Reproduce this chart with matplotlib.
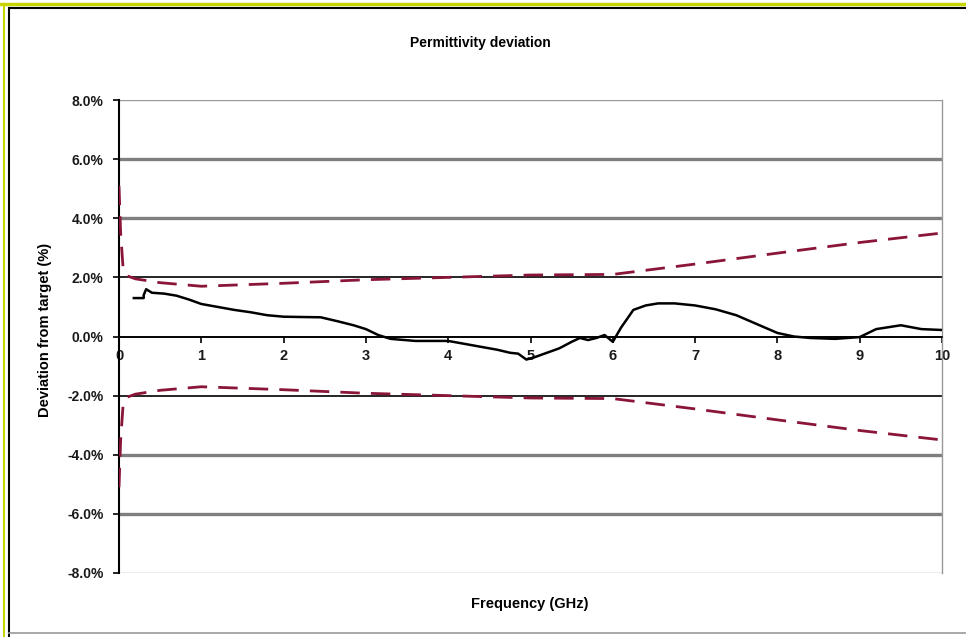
import matplotlib
matplotlib.use("Agg")
import matplotlib.pyplot as plt
from matplotlib.lines import Line2D

plt.rcParams['font.family'] = ['Liberation Sans', 'DejaVu Sans']

# Measured deviation (%)
freq = [0.18, 0.30, 0.30, 0.33, 0.40, 0.55, 0.70, 0.85, 1.00, 1.20, 1.40, 1.60, 1.80, 2.00,
        2.20, 2.45, 2.65, 2.85, 3.00, 3.15, 3.30, 3.60, 4.00, 4.20, 4.40, 4.60, 4.75, 4.85,
        4.95, 5.05, 5.20, 5.35, 5.50, 5.60, 5.70, 5.80, 5.90, 6.00, 6.10, 6.25, 6.40, 6.55,
        6.75, 7.00, 7.25, 7.50, 7.75, 8.00, 8.20, 8.40, 8.70, 9.00, 9.20, 9.50, 9.75, 10.0]
deviation = [1.30, 1.30, 1.40, 1.60, 1.48, 1.45, 1.38, 1.25, 1.10, 1.00, 0.90, 0.82, 0.72, 0.67,
             0.66, 0.65, 0.52, 0.38, 0.25, 0.05, -0.08, -0.15, -0.15, -0.25, -0.35, -0.45, -0.55, -0.58,
             -0.78, -0.70, -0.55, -0.40, -0.18, -0.05, -0.12, -0.05, 0.05, -0.18, 0.30, 0.90, 1.05, 1.12,
             1.12, 1.05, 0.92, 0.72, 0.42, 0.12, 0.00, -0.05, -0.08, -0.02, 0.25, 0.38, 0.25, 0.22]

# Tolerance limits (%)
tol_freq = [0.0, 0.02, 0.05, 0.10, 0.20, 0.50, 1.00, 2.00, 3.00, 4.00, 5.00, 6.00,
            7.00, 8.00, 9.00, 10.0]
tol_upper = [5.10, 3.50, 2.30, 2.05, 1.95, 1.82, 1.70, 1.80, 1.92, 2.00, 2.08, 2.10,
             2.45, 2.82, 3.18, 3.50]
tol_lower = [-v for v in tol_upper]

yticks = [-8, -6, -4, -2, 0, 2, 4, 6, 8]
ytick_labels = ['-8.0%', '-6.0%', '-4.0%', '-2.0%', '0.0%', '2.0%', '4.0%', '6.0%', '8.0%']
xticks = [0, 1, 2, 3, 4, 5, 6, 7, 8, 9, 10]

W, H = 966, 637
fig = plt.figure(figsize=(W / 100, H / 100), dpi=100)

# outer frame (yellow + black)
fig.add_artist(Line2D([0, 1], [1 - 4 / H, 1 - 4 / H], color='#c8d400', lw=2.5, transform=fig.transFigure))
fig.add_artist(Line2D([4 / W, 4 / W], [1 - 4 / H, 0], color='#c8d400', lw=1.5, transform=fig.transFigure))
fig.add_artist(Line2D([9 / W, 1], [1 - 8 / H, 1 - 8 / H], color='black', lw=1.5, transform=fig.transFigure))
fig.add_artist(Line2D([9 / W, 9 / W], [1 - 8 / H, 0], color='black', lw=1.5, transform=fig.transFigure))
fig.add_artist(Line2D([9 / W, 1], [4 / H, 4 / H], color='#999999', lw=1.2, transform=fig.transFigure))

ax = fig.add_axes([119 / W, 1 - 573 / H, (942 - 119) / W, (573 - 100) / H])
ax.set_xlim(0, 10)
ax.set_ylim(-8, 8)

# horizontal grid lines
for y in yticks:
    if y in (4, 6, -4, -6):
        ax.axhline(y, color='#7f7f7f', lw=2.4, zorder=1)
    elif y in (2, -2, 0):
        ax.axhline(y, color='black', lw=1.2, zorder=1)
    else:
        ax.axhline(y, color='#999999', lw=1.0, zorder=1)

dash_col = '#8a1538'
ax.plot(tol_freq, tol_upper, color=dash_col, lw=2.0, dashes=(7, 4), zorder=3)
ax.plot(tol_freq, tol_lower, color=dash_col, lw=2.0, dashes=(7, 4), zorder=3)
ax.plot(freq, deviation, color='black', lw=1.8, zorder=4)

ax.spines['bottom'].set_position(('data', 0))
ax.spines['bottom'].set_color('black')
ax.spines['bottom'].set_linewidth(1.2)
ax.spines['left'].set_color('black')
ax.spines['left'].set_linewidth(1.5)
ax.spines['top'].set_visible(False)
ax.spines['right'].set_color('#999999')
ax.spines['right'].set_linewidth(1.0)

ax.set_yticks(yticks)
ax.set_yticklabels(ytick_labels, fontsize=10, fontweight='bold', color='#1a1a1a')
ax.set_xticks(xticks)
ax.set_xticklabels([str(x) for x in xticks], fontsize=10.5, fontweight='bold', color='#1a1a1a')
ax.tick_params(axis='y', direction='out', length=4, width=1.2, pad=7)
ax.tick_params(axis='x', direction='out', length=4, width=1.2, pad=5)

fig.text(480 / W, 1 - 43 / H, 'Permittivity deviation', ha='center', va='center',
         fontsize=10, fontweight='bold')
fig.text(45 / W, 1 - 330 / H, 'Deviation from target (%)', ha='center', va='center',
         rotation=90, fontsize=10.5, fontweight='bold')
fig.text(530 / W, 1 - 604 / H, 'Frequency (GHz)', ha='center', va='center',
         fontsize=10.5, fontweight='bold')

fig.savefig('out.png', dpi=100)
